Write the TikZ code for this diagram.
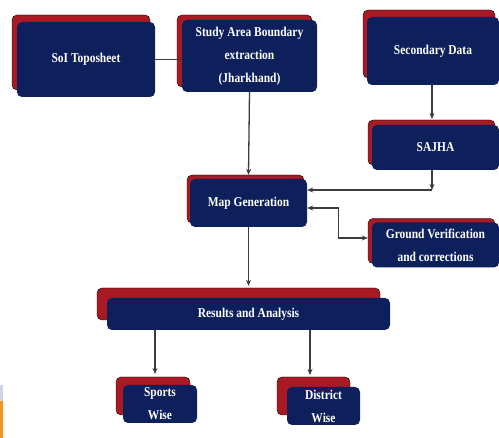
\documentclass[tikz,border=0pt]{standalone}
\usepackage{fontspec}
\setmainfont{Liberation Serif}
\newfontfamily\boxfont[FakeStretch=0.85]{Liberation Serif}
\usetikzlibrary{arrows.meta,shadows}
\definecolor{navy}{RGB}{14,32,92}
\definecolor{redsh}{RGB}{168,26,36}
\definecolor{conn}{RGB}{60,60,60}
\definecolor{orng}{RGB}{247,148,29}
\definecolor{pale}{RGB}{205,212,226}
\tikzset{
  box/.style={fill=navy, rounded corners=5pt, text=white, align=center,
    font=\boxfont\bfseries\fontsize{13.5}{23}\selectfont, inner sep=0pt},
  sh/.style 2 args={copy shadow={shadow xshift=#1, shadow yshift=#2, fill=redsh}},
  link/.style={draw=conn, line width=1.3pt, -{Stealth[length=6pt,width=5pt]}},
  plain/.style={draw=conn, line width=1.3pt},
  both/.style={draw=conn, line width=1.3pt, {Stealth[length=6pt,width=5pt]}-{Stealth[length=6pt,width=5pt]}}
}
\begin{document}
\begin{tikzpicture}[x=1pt,y=-1pt]
\useasboundingbox[fill=white] (0,0) rectangle (499,438);
% small edge artefact at bottom left
\fill[pale] (0,385) rectangle (3,401);
\fill[orng] (0,401) rectangle (3,438);

\node[box, sh={-5pt}{7pt}, minimum width=138pt, minimum height=75pt] (soi) at (86,59.5) {SoI Toposheet};
\node[box, sh={-5pt}{5pt}, minimum width=135pt, minimum height=72pt] (study) at (249.5,56) {Study Area Boundary\\extraction\\(Jharkhand)};
\node[box, sh={-4pt}{7pt}, minimum width=132pt, minimum height=68pt] (sec) at (433,51) {Secondary Data};
\node[box, sh={-4pt}{5pt}, minimum width=127pt, minimum height=45pt] (sajha) at (435.5,147.5) {SAJHA};
\node[box, sh={-3pt}{4pt}, minimum width=117pt, minimum height=48pt] (map) at (248.5,203) {Map Generation};
\node[box, sh={-4pt}{4pt}, minimum width=127pt, minimum height=45pt] (gv) at (435.5,245) {Ground Verification\\and corrections};
\node[box, sh={-10pt}{10pt}, minimum width=283pt, minimum height=32pt] (res) at (248.5,314) {Results and Analysis};
\node[box, sh={-7pt}{8pt}, minimum width=74pt, minimum height=38pt] (sports) at (160,404) {Sports\\Wise};
\node[box, sh={-10pt}{10pt}, minimum width=73pt, minimum height=38pt] (district) at (323.5,406) {District\\Wise};

\coordinate (bend) at (432,190);

\draw[plain] (soi.east) -- (soi.east -| study.west);
\draw[link] (study.south) -- ([yshift=4pt]map.north);
\draw[link] (sec.south -| bend) -- (432,119);
\draw[link] (sajha.south -| bend) -- (bend);
\draw[link] (bend) -- (bend -| map.east);
\draw[both] ([yshift=-5pt]map.east) -- ++(31,0) |- ([xshift=-4pt,yshift=7pt]gv.west);
\draw[link] (map.south) -- ([yshift=12pt]res.north);
\draw[link] (res.south -| 155,0) -- (155,374);
\draw[link] (res.south -| 310,0) -- (310,375);
\end{tikzpicture}
\end{document}
